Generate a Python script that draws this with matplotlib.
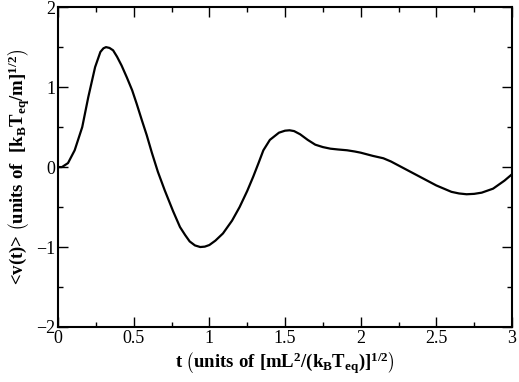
import matplotlib
matplotlib.use('Agg')
import matplotlib.pyplot as plt
from matplotlib.ticker import MultipleLocator

plt.rcParams.update({
    'font.family': 'Liberation Serif',
    'mathtext.fontset': 'custom',
    'mathtext.rm': 'Liberation Serif:bold',
    'mathtext.bf': 'Liberation Serif:bold',
    'mathtext.it': 'Liberation Serif:bold',
    'mathtext.default': 'bf',
})

# values
T = [0.0, 0.026, 0.066, 0.11, 0.16, 0.20, 0.245, 0.28, 0.30, 0.317, 0.34,
     0.364, 0.39, 0.42, 0.455, 0.49, 0.52, 0.555, 0.586, 0.62, 0.66, 0.705,
     0.76, 0.806, 0.84, 0.87, 0.905, 0.94, 0.97, 1.0, 1.04, 1.09, 1.15, 1.20,
     1.25, 1.29, 1.325, 1.357, 1.40, 1.46, 1.50, 1.53, 1.56, 1.60, 1.65,
     1.70, 1.75, 1.80, 1.85, 1.91, 1.96, 2.0, 2.08, 2.15, 2.20, 2.25, 2.31,
     2.37, 2.44, 2.50, 2.55, 2.60, 2.65, 2.70, 2.75, 2.80, 2.875, 2.95, 3.0]
V = [0.0, 0.0, 0.05, 0.21, 0.50, 0.875, 1.25, 1.44, 1.485, 1.50, 1.49,
     1.46, 1.38, 1.27, 1.12, 0.96, 0.79, 0.58, 0.40, 0.18, -0.06, -0.29,
     -0.55, -0.75, -0.85, -0.93, -0.98, -1.00, -0.995, -0.975, -0.92, -0.83, -0.67, -0.50,
     -0.30, -0.12, 0.05, 0.21, 0.34, 0.43, 0.455, 0.46, 0.45, 0.41, 0.34,
     0.28, 0.25, 0.23, 0.22, 0.21, 0.195, 0.18, 0.14, 0.11, 0.07, 0.02, -0.04,
     -0.10, -0.17, -0.23, -0.27, -0.31, -0.33, -0.34, -0.335, -0.32, -0.27, -0.17, -0.09]

XLABEL = r't $\left(units\ of\ [mL^{2}/(k_{B}T_{eq})]^{1/2}\right)$'
YLABEL = r'<v(t)> $\left(units\ of\ \ [k_{B}T_{eq}/m]^{1/2}\right)$'

fig = plt.figure(figsize=(5.19, 3.82), dpi=100)
ax = fig.add_axes([0.1118, 0.144, 0.8747, 0.8373])

ax.plot(T, V, color='black', lw=1.6)

ax.set_xlim(0, 3)
ax.set_ylim(-2, 2)
ax.set_xticks([0, 0.5, 1, 1.5, 2, 2.5, 3])
ax.set_xticklabels(['0', '0.5', '1', '1.5', '2', '2.5', '3'])
ax.xaxis.set_minor_locator(MultipleLocator(0.25))
ax.yaxis.set_major_locator(MultipleLocator(1))
ax.yaxis.set_minor_locator(MultipleLocator(0.5))

ax.tick_params(which='both', direction='in', top=True, right=True, labelsize=13, width=1)
ax.tick_params(which='major', length=7, pad=2)
ax.tick_params(which='minor', length=3.5)
for s in ax.spines.values():
    s.set_linewidth(1.5)

ax.set_xlabel(XLABEL, fontsize=13.5, fontweight='bold', labelpad=3)
ax.set_ylabel(YLABEL, fontsize=13.5, fontweight='bold', labelpad=3)

fig.savefig('out.png', dpi=100)
